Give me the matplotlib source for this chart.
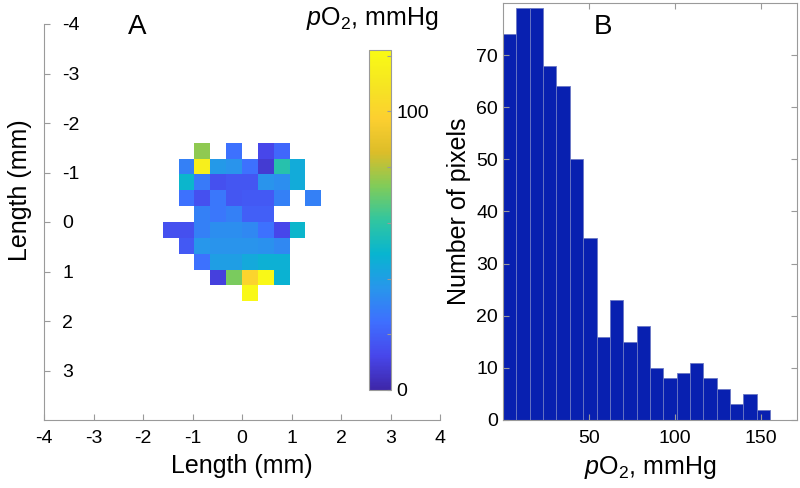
import numpy as np
import matplotlib.pyplot as plt
from matplotlib.colors import LinearSegmentedColormap

plt.rcParams['font.family'] = ['Liberation Sans', 'DejaVu Sans']
plt.rcParams['mathtext.fontset'] = 'custom'
plt.rcParams['mathtext.rm'] = 'Liberation Sans'
plt.rcParams['mathtext.it'] = 'Liberation Sans:italic'
plt.rcParams['mathtext.default'] = 'regular'
plt.rcParams['axes.unicode_minus'] = False

nan = np.nan

# Panel A: pO2 map (mmHg), rows top -> bottom, columns left -> right, NaN = no pixel
po2_map = [
    [nan, nan, 75, nan, 25, nan, 12, 22, nan, nan],
    [nan, 30, 115, 38, 36, 25, 8, 58, 45, nan],
    [nan, 50, 28, 15, 17, 17, 36, 34, 45, nan],
    [nan, 25, 15, 27, 17, 18, 18, 30, nan, 30],
    [nan, nan, 30, 27, 30, 20, 20, nan, nan, nan],
    [15, 15, 30, 34, 34, 32, 25, 12, 50, nan],
    [nan, 18, 37, 36, 36, 36, 35, 32, nan, nan],
    [nan, nan, 25, 40, 40, 44, 47, 47, nan, nan],
    [nan, nan, nan, 10, 72, 100, 120, 48, nan, nan],
    [nan, nan, nan, nan, nan, 120, nan, nan, nan, nan],
]
pixel_mm = 0.32
map_origin = -1.6
po2_max = 122

# Panel B: histogram of pixel pO2
hist_counts = [74, 79, 79, 68, 64, 50, 35, 16, 23, 15,
               18, 10, 8, 9, 11, 8, 6, 3, 5, 2]
hist_lo, hist_hi = 0.0, 155.4

# approximate MATLAB parula
parula_pts = [
    (0.2422, 0.1504, 0.6603), (0.2803, 0.2782, 0.9221), (0.2440, 0.4358, 0.9988),
    (0.1540, 0.5902, 0.9218), (0.0297, 0.7082, 0.8163), (0.1938, 0.7758, 0.6251),
    (0.5044, 0.7993, 0.3480), (0.8634, 0.7406, 0.1596), (0.9892, 0.8136, 0.1885),
    (0.9626, 0.9000, 0.1309), (0.9769, 0.9839, 0.0805),
]
parula = LinearSegmentedColormap.from_list('parula', parula_pts)

grey = '#9a9a9a'
fig = plt.figure(figsize=(8, 4.88), dpi=100)

# ---- A: map ----
axA = fig.add_axes([44/800, 68/488, 396/800, 396/488])
data = np.ma.masked_invalid(np.array(po2_map, dtype=float))
nr, nc = data.shape
xe = map_origin + pixel_mm * np.arange(nc + 1)
ye = map_origin + pixel_mm * np.arange(nr + 1)
im = axA.pcolormesh(xe, ye, data, cmap=parula, vmin=0, vmax=po2_max)
axA.set_xlim(-4, 4)
axA.set_ylim(4, -4)
axA.set_xticks(range(-4, 5))
axA.set_yticks(range(-4, 4))
for s in ['top', 'right']:
    axA.spines[s].set_visible(False)
for s in ['left', 'bottom']:
    axA.spines[s].set_color(grey)
axA.tick_params(direction='in', length=4, color=grey, labelsize=14)
axA.tick_params(axis='x', pad=7)
axA.tick_params(axis='y', pad=-13)
for lbl in axA.get_yticklabels():
    lbl.set_ha('left')
axA.set_xlabel('Length (mm)', fontsize=18, labelpad=5)
axA.set_ylabel('Length (mm)', fontsize=18)
axA.yaxis.set_label_coords(-0.03, 0.58)
fig.text(137/800, 1 - 27/488, 'A', fontsize=20, ha='center', va='center')

# colorbar
cax = fig.add_axes([369/800, 98/488, 22/800, 340/488])
cb = fig.colorbar(im, cax=cax)
cb.set_ticks(range(0, 121, 20))
cb.set_ticklabels(['0', '', '', '', '', '100', ''])
cb.outline.set_edgecolor(grey)
cb.outline.set_linewidth(0.8)
cax.tick_params(direction='in', length=3, color=grey, labelsize=14, pad=4)
fig.text(372/800, 1 - 19/488, r'$\mathit{p}$O$_2$, mmHg', fontsize=18,
         ha='center', va='center')

# ---- B: histogram ----
axB = fig.add_axes([503/800, 68/488, 294/800, 417/488])
edges = np.linspace(hist_lo, hist_hi, len(hist_counts) + 1)
axB.bar(edges[:-1], hist_counts, width=np.diff(edges), align='edge',
        color='#0820b0', edgecolor='#6a78c4', linewidth=0.6)
axB.set_xlim(0, 171)
axB.set_ylim(0, 80)
axB.set_xticks([50, 100, 150])
axB.set_yticks(range(0, 71, 10))
for s in axB.spines.values():
    s.set_color(grey)
axB.tick_params(direction='in', length=4, color=grey, labelsize=14,
                top=True, right=True)
axB.tick_params(axis='x', pad=7)
axB.set_xlabel(r'$\mathit{p}$O$_2$, mmHg', fontsize=18, labelpad=5)
axB.set_ylabel('Number of pixels', fontsize=18, labelpad=4)
fig.text(603/800, 1 - 27/488, 'B', fontsize=20, ha='center', va='center')

fig.savefig('out.png', dpi=100)
